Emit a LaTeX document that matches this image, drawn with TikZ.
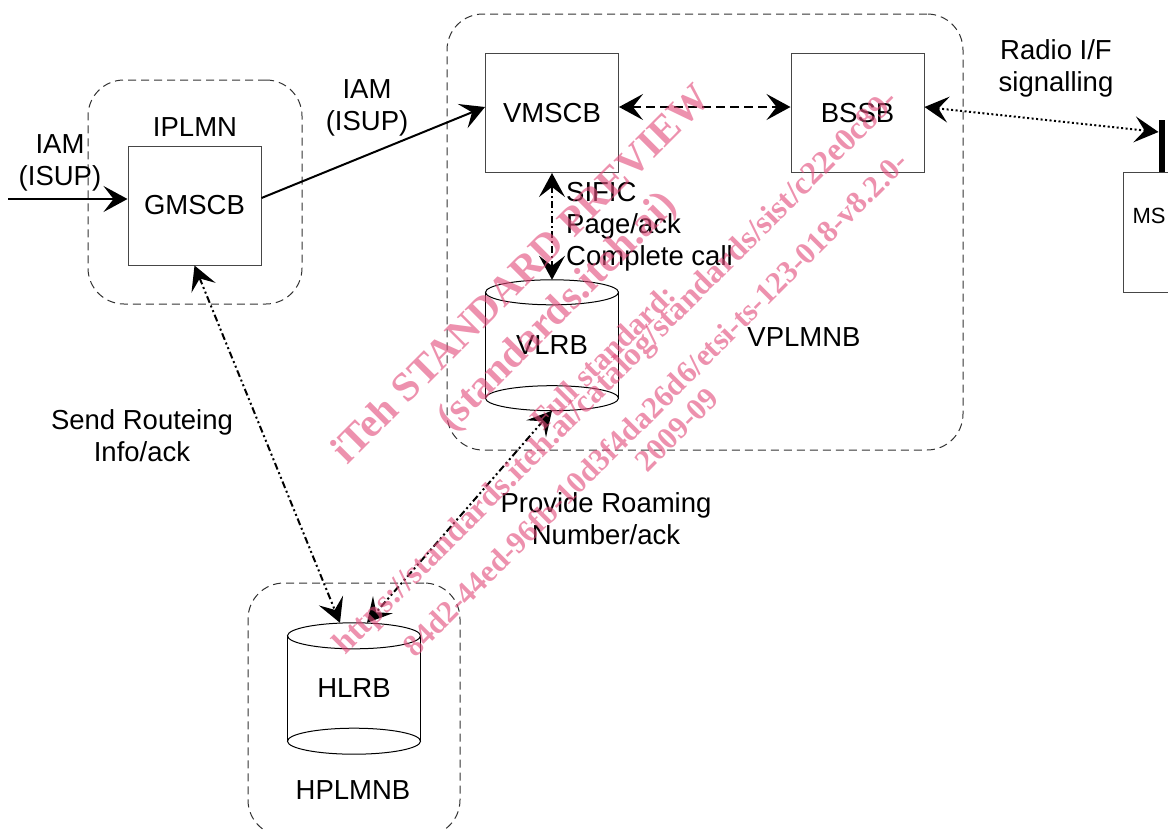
\documentclass[tikz,border=0pt]{standalone}
\usepackage{fontspec}
\setmainfont{Liberation Sans}
\newfontfamily\wmfont{Liberation Serif}
\usetikzlibrary{arrows.meta}

\definecolor{boxline}{RGB}{70,70,70}
\definecolor{grpline}{RGB}{50,50,50}
\definecolor{wmpink}{RGB}{226,78,124}

\tikzset{
  every node/.style={font=\fontsize{27.5}{32}\selectfont},
  unitbox/.style={draw=boxline, line width=1pt, minimum width=133pt, minimum height=119pt, inner sep=0pt},
  dbbody/.style={minimum width=133pt, inner sep=0pt},
  dbline/.style={draw=black, line width=1pt},
  network/.style={draw=grpline, line width=1pt, dash pattern=on 8pt off 5pt, rounded corners=36pt, inner sep=0pt},
  txt/.style={align=center, inner sep=0pt},
  link/.style={line width=2pt},
  tipto/.style={-{Stealth[length=24pt, width=26pt, inset=10pt]}},
  tipboth/.style={{Stealth[length=24pt, width=26pt, inset=10pt]}-{Stealth[length=24pt, width=26pt, inset=10pt]}},
  dashlink/.style={link, dash pattern=on 9pt off 5pt},
  dotlink/.style={link, dash pattern=on 2pt off 2.5pt},
  dashdot/.style={link, dash pattern=on 7pt off 3pt on 2pt off 3pt},
  dashdotdot/.style={link, dash pattern=on 7pt off 3pt on 2pt off 3pt on 2pt off 3pt},
  wm/.style={rotate=45, text=wmpink, text opacity=0.62, inner sep=0pt},
  wmbig/.style={wm, font=\wmfont\bfseries\fontsize{41}{41}\selectfont},
  wmsmall/.style={wm, font=\wmfont\bfseries\fontsize{31}{31}\selectfont},
}

\begin{document}
\begin{tikzpicture}[x=1pt, y=-1pt]
\useasboundingbox (0,0) rectangle (1168,830);

% network groupings
\node[network, minimum width=214pt, minimum height=224pt] (iplmn) at (195,192) {};
\node[network, minimum width=516pt, minimum height=436pt] (vplmn) at (705,232) {};
\node[network, minimum width=212pt, minimum height=253pt] (hplmn) at (354,709.5) {};

% switching and radio units
\node[unitbox] (gmsc) at (194.5,205.5) {GMSCB};
\node[unitbox] (vmsc) at (552,113) {VMSCB};
\node[unitbox] (bss) at (857.5,113) {BSSB};
\node[draw=boxline, line width=1pt, minimum width=80pt, minimum height=120pt, inner sep=0pt] (ms) at (1163,232.5) {};
\node[txt, font=\fontsize{22}{26}\selectfont] (ms-label) at (1149,216) {MS};
\node[fill=black, minimum width=6pt, minimum height=52pt, inner sep=0pt] (ant) at (1161.5,146) {};
\coordinate (antfeed) at (1158.5,132);

% registers (cylinders)
\node[dbbody, minimum height=105.5pt] (vlr) at (552,345.25) {VLRB};
\draw[dbline] (vlr.north west) -- (vlr.south west) (vlr.north east) -- (vlr.south east);
\draw[dbline] (vlr.north) ellipse [x radius=66.5pt, y radius=12.5pt];
\draw[dbline] (vlr.south) ellipse [x radius=66.5pt, y radius=12.5pt];
\coordinate (vlr-top) at ([yshift=12.5pt]vlr.north);
\coordinate (vlr-bot) at ([yshift=-12.5pt]vlr.south);

\node[dbbody, minimum height=105pt] (hlr) at (354,688.5) {HLRB};
\draw[dbline] (hlr.north west) -- (hlr.south west) (hlr.north east) -- (hlr.south east);
\draw[dbline] (hlr.north) ellipse [x radius=66.5pt, y radius=13pt];
\draw[dbline] (hlr.south) ellipse [x radius=66.5pt, y radius=13pt];
\coordinate (hlr-top) at ([yshift=13pt]hlr.north);

% incoming call
\coordinate (iamsrc) at (8,199);
\draw[link, tipto] (iamsrc) -- (iamsrc -| gmsc.west);
\draw[link, tipto] ([yshift=7.5pt]gmsc.east) -- ([yshift=6pt]vmsc.west);

% signalling links
\draw[dashlink, tipboth] ([yshift=6pt]vmsc.east) -- ([yshift=6pt]bss.west);
\draw[dotlink, tipboth] ([yshift=6pt]bss.east) -- (antfeed);
\draw[dashdot, tipboth] (vmsc.south) -- (vlr-top);
\draw[dashdotdot, tipboth] (gmsc.south) -- ([xshift=-14pt]hlr-top);
\draw[dashdotdot, tipboth] (vlr-bot) -- ([xshift=13pt]hlr-top);

% labels
\node[txt] (l-iam-in) at (60,163) {IAM\\(ISUP)};
\node[txt] (l-iplmn) at (195,127) {IPLMN};
\node[txt] (l-iam-out) at (367,108) {IAM\\(ISUP)};
\node[txt, align=left, anchor=west] (l-sific) at (566,227) {SIFIC\\Page/ack\\Complete call};
\node[txt] (l-vplmn) at (804,337) {VPLMNB};
\node[txt] (l-radio) at (1056,68) {Radio I/F\\signalling};
\node[txt] (l-send) at (142,436) {Send Routeing\\Info/ack};
\node[txt] (l-prov) at (606,519) {Provide Roaming\\Number/ack};
\node[txt] (l-hplmn) at (353,790) {HPLMNB};

% preview stamp
\node[wmbig] (wm1) at (520,273) {iTeh STANDARD PREVIEW};
\node[wmbig] (wm2) at (558,313) {(standards.iteh.ai)};
\node[wmsmall] (wm3) at (603,357) {Full standard:};
\node[wmsmall, font=\wmfont\bfseries\fontsize{32.5}{32.5}\selectfont] (wm4) at (617,373) {https://standards.iteh.ai/catalog/standards/sist/c22e0c89-};
\node[wmsmall] (wm5) at (655,404) {84d2-44ed-96fb-10d3f4da26d6/etsi-ts-123-018-v8.2.0-};
\node[wmsmall] (wm6) at (677,430) {2009-09};
\end{tikzpicture}
\end{document}
